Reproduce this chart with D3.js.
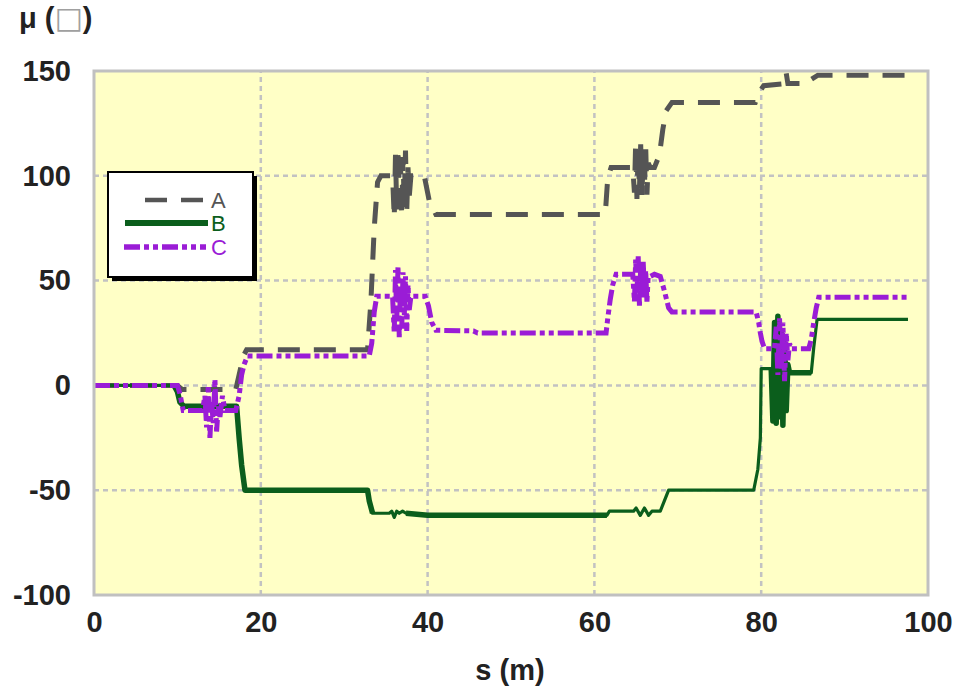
<!DOCTYPE html>
<html><head><meta charset="utf-8">
<script src="https://cdn.jsdelivr.net/npm/d3@7"></script>
<style>body{margin:0;background:#fff}</style>
</head><body>
<svg id="chart" width="954" height="691"></svg>
<script>
// Axis ticks
const xTicks = [0, 20, 40, 60, 80, 100];
const yTicks = [-100, -50, 0, 50, 100, 150];
const seriesNames = ["A", "B", "C"];

// Series A: position s (m) and mu
const aS  = [0, 10.0, 10.6, 11.0, 17.0, 17.4, 17.9, 18.3, 32.8, 33.2, 33.6, 34.0, 34.4, 35.8, 36.0, 36.15, 36.3, 36.45, 36.6, 36.75, 36.9, 37.05, 37.2, 37.35, 37.5, 37.65, 37.8, 38.0, 38.3, 39.6, 40.2, 41.0, 61.3, 61.6, 62.0, 62.4, 64.6, 64.8, 64.95, 65.1, 65.25, 65.4, 65.55, 65.7, 65.85, 66.0, 66.15, 66.3, 66.45, 66.7, 67.2, 67.8, 68.2, 68.6, 69.3, 79.3, 79.8, 80.3, 82.8, 83.0, 83.2, 85.5, 86.0, 86.8, 97.3];
const aMu = [0, 0, -2, -2, -2, 5, 14, 17, 17, 40, 75, 97, 100, 100, 80, 110, 84, 113, 88, 106, 81, 109, 86, 112, 83, 104, 90, 100, 100, 100, 88, 81.5, 81.5, 99, 104, 104, 104, 92, 116, 89, 113, 93, 115, 90, 111, 95, 114, 91, 106, 104, 104, 110, 122, 131, 135, 135, 140, 143, 144, 149, 144, 144, 146, 148, 148];

// Series B
const bS  = [0, 9.6, 10.0, 10.3, 10.8, 17.1, 17.4, 17.7, 18.1, 32.8, 33.0, 33.4, 35.4, 35.7, 36.0, 36.3, 36.6, 37.0, 37.4, 40.0, 61.5, 61.8, 64.7, 65.0, 65.5, 66.0, 66.5, 66.9, 67.9, 68.4, 68.9, 79.1, 79.6, 79.9, 80.0, 81.2, 81.4, 81.6, 81.8, 82.0, 82.2, 82.4, 82.6, 82.8, 83.0, 83.2, 83.4, 86.0, 86.3, 86.7, 97.6];
const bMu = [0, 0, -3, -8, -10, -10, -25, -38, -50, -50, -55, -61, -61, -60, -63, -60, -61, -60, -61, -62, -62, -60, -60, -58.5, -62, -58.5, -62, -60, -60, -55, -50, -50, -40, -25, 8, 8, -17, 30, -18, 33, -15, 25, -19, 20, -12, 10, 6, 6, 18, 31.5, 31.5];

// Series C
const cS  = [0, 10.0, 10.3, 10.7, 13.0, 13.3, 13.5, 13.7, 13.9, 14.1, 14.3, 14.5, 14.7, 14.9, 15.1, 15.4, 15.7, 17.0, 17.4, 17.7, 18.0, 18.4, 33.0, 33.3, 33.6, 33.9, 35.8, 36.0, 36.15, 36.3, 36.45, 36.6, 36.75, 36.9, 37.05, 37.2, 37.35, 37.5, 37.65, 37.8, 38.0, 39.7, 40.1, 40.5, 41.0, 45.5, 46.0, 61.4, 61.6, 61.9, 62.2, 62.6, 64.6, 64.8, 64.95, 65.1, 65.25, 65.4, 65.55, 65.7, 65.85, 66.0, 66.15, 66.3, 66.45, 66.7, 67.2, 67.9, 68.4, 68.9, 69.3, 79.4, 79.7, 79.9, 80.1, 80.4, 81.6, 81.8, 82.0, 82.2, 82.4, 82.6, 82.8, 83.0, 83.2, 83.4, 83.6, 85.7, 86.0, 86.3, 86.6, 86.9, 97.5];
const cMu = [0, 0, -4, -12, -12, -5, -20, 0, -25, -8, -18, 3, -22, -10, -15, -5, -12, -12, -5, 5, 10, 14, 14, 20, 35, 42.5, 42.5, 25, 55, 30, 57, 23, 50, 27, 54, 33, 52, 26, 48, 36, 42.5, 42.5, 38, 30, 26.3, 26, 25, 25, 32, 41, 48, 53, 53, 40, 60, 44, 62, 38, 57, 42, 59, 45, 55, 40, 52, 52, 53, 52, 45, 37, 35, 35, 30, 25, 21, 17.5, 17.5, 28, 5, 32, 8, 30, 2, 25, 12, 20, 17.5, 17.5, 22, 30, 37, 42, 42];

const plot = { left: 94, right: 928, top: 71, bottom: 595 };

const svg = d3.select("#chart");
const x = d3.scaleLinear().domain([0, 100]).range([plot.left, plot.right]);
const y = d3.scaleLinear().domain([-100, 150]).range([plot.bottom, plot.top]);

const font = "'Liberation Sans', Arial, sans-serif";

// plot background
svg.append("rect")
  .attr("x", plot.left).attr("y", plot.top)
  .attr("width", plot.right - plot.left).attr("height", plot.bottom - plot.top)
  .attr("fill", "#ffffc6");

// grid
const grid = svg.append("g").attr("stroke", "#c2c2c2").attr("stroke-width", 2.5).attr("stroke-dasharray", "5,4");
grid.selectAll("line.v").data(xTicks.filter(d => d > 0 && d < 100)).join("line")
  .attr("x1", d => x(d)).attr("x2", d => x(d))
  .attr("y1", plot.bottom).attr("y2", plot.top);
grid.selectAll("line.h").data(yTicks.filter(d => d > -100 && d < 150)).join("line")
  .attr("x1", plot.left).attr("x2", plot.right)
  .attr("y1", d => y(d)).attr("y2", d => y(d));

// clip
svg.append("clipPath").attr("id", "clip").append("rect")
  .attr("x", plot.left).attr("y", plot.top)
  .attr("width", plot.right - plot.left).attr("height", plot.bottom - plot.top);

const line = d3.line().x(d => x(d[0])).y(d => y(d[1]));
const lines = svg.append("g").attr("clip-path", "url(#clip)").attr("fill", "none");

const colA = "#555555", colB = "#0b5e1c", colC = "#9a1cd6";
const dashA = "22,14", dashC = "16,4,5,4,5,4";

const ptsA = aS.map((s, i) => [s, aMu[i]]);
const ptsB = bS.map((s, i) => [s, bMu[i]]);
const ptsC = cS.map((s, i) => [s, cMu[i]]);

lines.append("path").attr("d", line(ptsA))
  .attr("stroke", colA).attr("stroke-width", 5).attr("stroke-dasharray", dashA);

// B: thin base line, heavier where the trace is dense
lines.append("path").attr("d", line(ptsB))
  .attr("stroke", colB).attr("stroke-width", 3.2).attr("stroke-linejoin", "round");
const heavyRanges = [[9.6, 33.4], [37.4, 61.5], [81.2, 86.0]];
heavyRanges.forEach(([s0, s1]) => {
  lines.append("path").attr("d", line(ptsB.filter(p => p[0] >= s0 && p[0] <= s1)))
    .attr("stroke", colB).attr("stroke-width", 5.5).attr("stroke-linejoin", "round");
});

lines.append("path").attr("d", line(ptsC))
  .attr("stroke", colC).attr("stroke-width", 5).attr("stroke-dasharray", dashC);

// plot frame
svg.append("rect")
  .attr("x", plot.left).attr("y", plot.top)
  .attr("width", plot.right - plot.left).attr("height", plot.bottom - plot.top)
  .attr("fill", "none").attr("stroke", "#c0c0c0").attr("stroke-width", 3);

// axes
const fmt = d => String(d);
const xAxis = svg.append("g").attr("transform", `translate(0,${plot.bottom})`)
  .call(d3.axisBottom(x).tickValues(xTicks).tickFormat(fmt).tickSize(0).tickPadding(14));
const yAxis = svg.append("g").attr("transform", `translate(${plot.left},0)`)
  .call(d3.axisLeft(y).tickValues(yTicks).tickFormat(fmt).tickSize(0).tickPadding(23));
[xAxis, yAxis].forEach(g => {
  g.select(".domain").remove();
  g.selectAll("text").attr("font-family", font).attr("font-weight", "bold")
    .attr("font-size", 29).attr("fill", "#222");
});
xAxis.selectAll("text").attr("dy", "0.8em");

// axis titles
svg.append("text").attr("x", 510).attr("y", 680).attr("text-anchor", "middle")
  .attr("font-family", font).attr("font-weight", "bold").attr("font-size", 29).attr("fill", "#222")
  .text("s (m)");
const yt = svg.append("text").attr("x", 19).attr("y", 28)
  .attr("font-family", font).attr("font-weight", "bold").attr("font-size", 29).attr("fill", "#222");
yt.append("tspan").text("μ (");
yt.append("tspan").attr("font-weight", "normal").attr("fill", "#a0a0a0").attr("font-family", "'DejaVu Sans', sans-serif").attr("font-size", 30).text("□");
yt.append("tspan").text(")");

// legend
const lg = svg.append("g");
lg.append("rect").attr("x", 112).attr("y", 176).attr("width", 145).attr("height", 105).attr("fill", "#000");
lg.append("rect").attr("x", 108).attr("y", 172).attr("width", 145).attr("height", 105)
  .attr("fill", "#fff").attr("stroke", "#000").attr("stroke-width", 2);
const legendItems = [
  { name: seriesNames[0], color: colA, dash: dashA, width: 4.5, y: 200, x0: 145, x1: 205 },
  { name: seriesNames[1], color: colB, dash: null, width: 6, y: 223, x0: 125, x1: 208 },
  { name: seriesNames[2], color: colC, dash: dashC, width: 5.5, y: 247, x0: 124, x1: 206 }
];
legendItems.forEach(it => {
  lg.append("line").attr("x1", it.x0).attr("x2", it.x1).attr("y1", it.y).attr("y2", it.y)
    .attr("stroke", it.color).attr("stroke-width", it.width)
    .attr("stroke-dasharray", it.dash || null);
  lg.append("text").attr("x", 211).attr("y", it.y + 8)
    .attr("font-family", font).attr("font-size", 22).attr("fill", it.color).text(it.name);
});
</script>
</body></html>
